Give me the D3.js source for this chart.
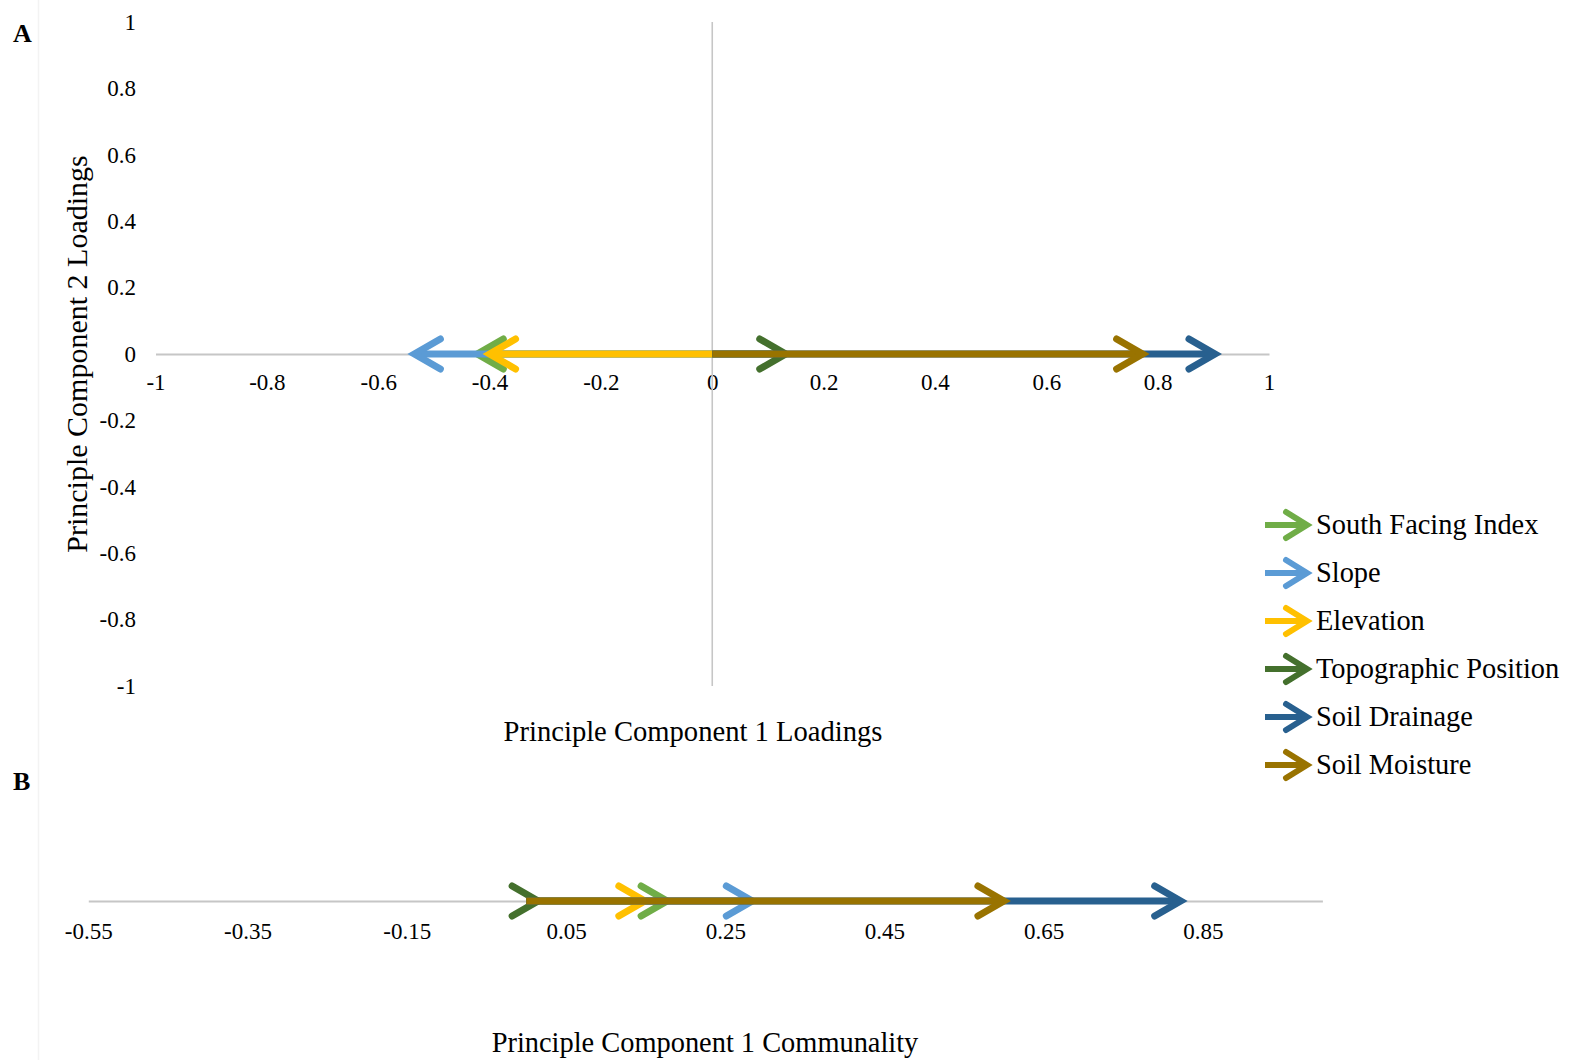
<!DOCTYPE html>
<html>
<head>
<meta charset="utf-8">
<script src="https://cdn.jsdelivr.net/npm/d3@7"></script>
<style>
  html, body { margin: 0; padding: 0; background: #fff; }
  svg text { font-family: "Liberation Serif", "Times New Roman", serif; fill: #000; }
</style>
</head>
<body>
<svg id="chart" width="1573" height="1060"></svg>
<script>
// Variables, in legend / drawing order
const variables = ["South Facing Index", "Slope", "Elevation", "Topographic Position", "Soil Drainage", "Soil Moisture"];
const colors = ["#70AD47", "#5B9BD5", "#FFC000", "#44702D", "#28608F", "#997300"];

// Panel A: loadings on principal component 1 (PC2 loadings are all zero)
const pc1Loadings = [-0.422, -0.535, -0.40, 0.132, 0.903, 0.773];
const pc2Loadings = [0, 0, 0, 0, 0, 0];

// Panel B: communality on principal component 1
const pc1Communality = [0.177, 0.284, 0.149, 0.015, 0.822, 0.600];

// Tick labels
const ticksA = [-1, -0.8, -0.6, -0.4, -0.2, 0, 0.2, 0.4, 0.6, 0.8, 1];
const ticksB = [-0.55, -0.35, -0.15, 0.05, 0.25, 0.45, 0.65, 0.85];

const svg = d3.select("#chart");
const fmt = d => String(Math.round(d * 100) / 100);
const gridColor = "#c6c6c6";
const tickFont = 23;

// faint chart-area edge
svg.append("line").attr("x1", 38.5).attr("x2", 38.5).attr("y1", 0).attr("y2", 1060)
  .attr("stroke", "#f3f3f3").attr("stroke-width", 1.5);

// Panel letters
svg.append("text").attr("x", 13).attr("y", 42).attr("font-size", 26).attr("font-weight", "bold").text("A");
svg.append("text").attr("x", 13).attr("y", 790).attr("font-size", 26).attr("font-weight", "bold").text("B");

// Arrow drawing helper: shaft from the origin to the value, open chevron head at the tip
function drawArrow(g, x0, x1, y, color, opts) {
  const dir = x1 >= x0 ? 1 : -1;
  const back = opts.back, half = opts.half, w = opts.width;
  g.append("line")
    .attr("x1", x0).attr("x2", x1 - dir * 3)
    .attr("y1", y).attr("y2", y)
    .attr("stroke", color).attr("stroke-width", w).attr("stroke-linecap", "butt");
  g.append("path")
    .attr("d", `M${x1 - dir * back},${y - half} L${x1},${y} L${x1 - dir * back},${y + half}`)
    .attr("fill", "none").attr("stroke", color).attr("stroke-width", w)
    .attr("stroke-linecap", "round").attr("stroke-linejoin", "miter");
}

// ---------- Panel A ----------
const xA = d3.scaleLinear().domain([-1, 1]).range([155.5, 1269]);
const yA = d3.scaleLinear().domain([-1, 1]).range([686, 22]);

const gA = svg.append("g");

// horizontal axis through y = 0
const axA = gA.append("g").attr("transform", `translate(0,${yA(0)})`)
  .call(d3.axisBottom(xA).tickValues(ticksA).tickFormat(fmt).tickSize(0).tickPadding(20));
axA.select(".domain").attr("stroke", gridColor).attr("stroke-width", 2);
axA.selectAll("text").attr("font-size", tickFont).attr("font-family", "Liberation Serif");

// vertical axis line through x = 0
gA.append("line").attr("x1", xA(0)).attr("x2", xA(0)).attr("y1", yA(1)).attr("y2", yA(-1))
  .attr("stroke", gridColor).attr("stroke-width", 1.6);

// y labels at the left
const ayA = gA.append("g").attr("transform", "translate(145,0)")
  .call(d3.axisLeft(yA).tickValues(ticksA).tickFormat(fmt).tickSize(0).tickPadding(9));
ayA.select(".domain").remove();
ayA.selectAll("text").attr("font-size", tickFont).attr("font-family", "Liberation Serif");

// axis titles
gA.append("text").attr("x", 693).attr("y", 741).attr("text-anchor", "middle")
  .attr("font-size", 28.6).text("Principle Component 1 Loadings");
gA.append("text").attr("transform", `translate(87,${yA(0)}) rotate(-90)`)
  .attr("text-anchor", "middle").attr("font-size", 30).text("Principle Component 2 Loadings");

// arrows
variables.forEach((v, i) => {
  drawArrow(gA, xA(0), xA(pc1Loadings[i]), yA(pc2Loadings[i]), colors[i], { back: 26, half: 15, width: 7 });
});

// ---------- Panel B ----------
const xB = d3.scaleLinear().domain([-0.55, 1.0]).range([88.3, 1322.4]);
const yB = 901;

const gB = svg.append("g");
const axB = gB.append("g").attr("transform", `translate(0,${yB})`)
  .call(d3.axisBottom(xB).tickValues(ticksB).tickFormat(fmt).tickSize(0).tickPadding(22));
axB.select(".domain").attr("stroke", gridColor).attr("stroke-width", 2);
axB.selectAll("text").attr("font-size", tickFont).attr("font-family", "Liberation Serif");

gB.append("text").attr("x", 705).attr("y", 1052).attr("text-anchor", "middle")
  .attr("font-size", 28.4).text("Principle Component 1 Communality");

variables.forEach((v, i) => {
  drawArrow(gB, xB(0), xB(pc1Communality[i]), yB, colors[i], { back: 26, half: 15, width: 7 });
});

// ---------- Legend ----------
const legend = svg.append("g").attr("transform", "translate(1265,525)");
variables.forEach((v, i) => {
  const row = legend.append("g").attr("transform", `translate(0,${i * 48})`);
  drawArrow(row, 0, 42, 0, colors[i], { back: 21, half: 13, width: 6 });
  row.append("text").attr("x", 51).attr("y", 0).attr("dy", "0.33em")
    .attr("font-size", 28.4).text(v);
});
</script>
</body>
</html>
